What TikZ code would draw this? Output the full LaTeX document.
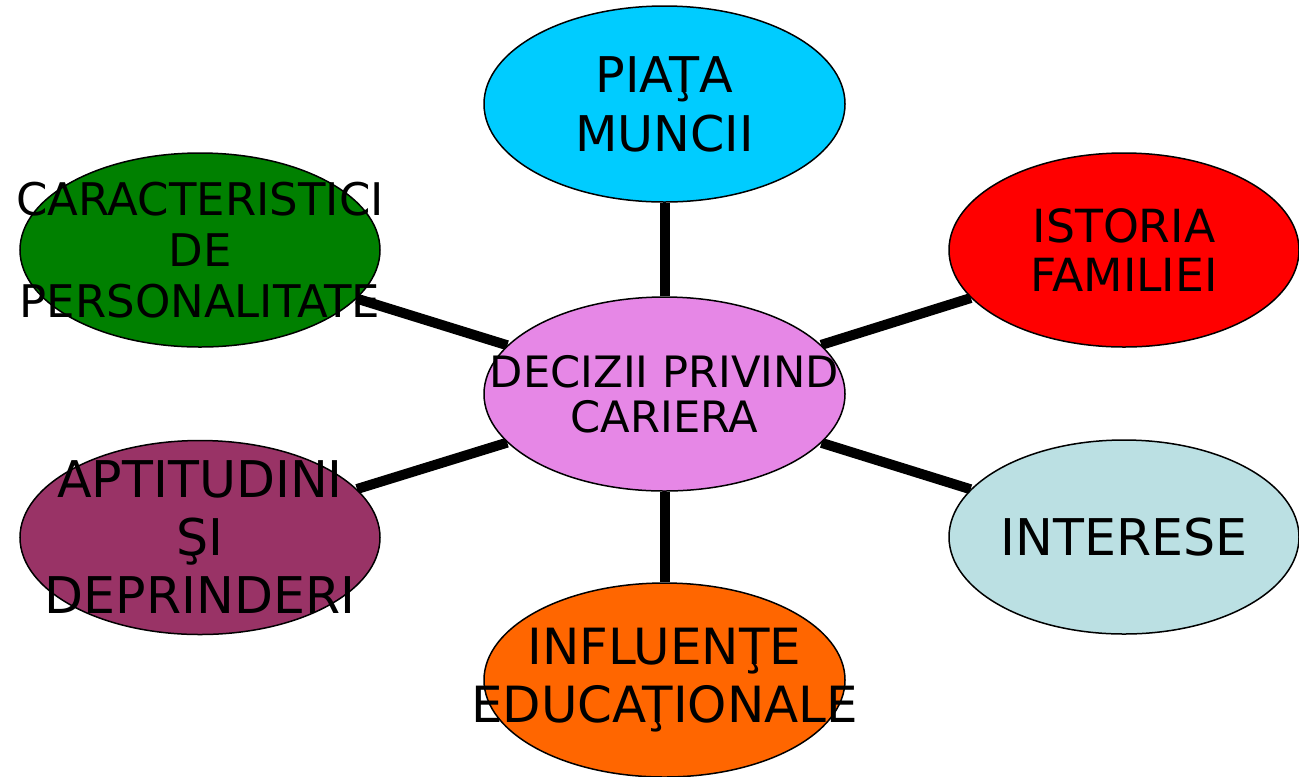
\documentclass[tikz,border=0pt]{standalone}
\usepackage{fontspec}
\setmainfont{DejaVu Sans}
\usetikzlibrary{shapes.geometric, backgrounds}

\begin{document}
\begin{tikzpicture}[
  bubble/.style={ellipse, draw=black, line width=0.015cm, inner sep=0pt},
  bubbletext/.style={align=center, inner sep=0pt, text=black},
  spoke/.style={line width=0.100000cm, draw=black}
]
\definecolor{my_violet}{RGB}{230,135,230}
\definecolor{my_cyan}{RGB}{0,204,255}
\definecolor{my_green}{RGB}{0,128,0}
\definecolor{my_red}{RGB}{255,0,0}
\definecolor{my_plum}{RGB}{153,51,102}
\definecolor{my_pale}{RGB}{187,224,227}
\definecolor{my_orange}{RGB}{255,102,0}
\useasboundingbox (0.000000, 0.000000) rectangle (12.990000, -7.760000);
% ellipses
\node[bubble, fill=my_violet, minimum width=3.610000cm, minimum height=1.940000cm] (centre) at (6.645000, -3.940000) {};
\node[bubble, fill=my_cyan, minimum width=3.610000cm, minimum height=1.960000cm] (piata) at (6.645000, -1.040000) {};
\node[bubble, fill=my_green, minimum width=3.600000cm, minimum height=1.940000cm] (caract) at (2.000000, -2.500000) {};
\node[bubble, fill=my_red, minimum width=3.500000cm, minimum height=1.940000cm] (istoria) at (11.240000, -2.500000) {};
\node[bubble, fill=my_plum, minimum width=3.600000cm, minimum height=1.940000cm] (aptit) at (2.000000, -5.375000) {};
\node[bubble, fill=my_pale, minimum width=3.500000cm, minimum height=1.940000cm] (interese) at (11.240000, -5.370000) {};
\node[bubble, fill=my_orange, minimum width=3.610000cm, minimum height=1.940000cm] (influente) at (6.645000, -6.800000) {};
% texts
\node[bubbletext, font=\fontsize{12.3pt}{12.8pt}\selectfont] (centre_text) at (centre) {DECIZII PRIVIND\\CARIERA};
\node[bubbletext, font=\fontsize{14pt}{16.8pt}\selectfont] (piata_text) at (piata) {PIAŢA\\MUNCII};
\node[bubbletext, font=\fontsize{12.8pt}{14.5pt}\selectfont] (caract_text) at (caract) {CARACTERISTICI\\DE\\PERSONALITATE};
\node[bubbletext, font=\fontsize{13pt}{13.7pt}\selectfont] (istoria_text) at (istoria) {ISTORIA\\FAMILIEI};
\node[bubbletext, font=\fontsize{14.4pt}{16.5pt}\selectfont] (aptit_text) at (aptit) {APTITUDINI\\ŞI\\DEPRINDERI};
\node[bubbletext, font=\fontsize{14.4pt}{16.5pt}\selectfont] (interese_text) at (interese) {INTERESE};
\node[bubbletext, font=\fontsize{14.2pt}{16.5pt}\selectfont] (influente_text) at (influente) {INFLUENŢE\\EDUCAŢIONALE};
% spokes
\begin{scope}[on background layer]
\draw[spoke] (centre) -- (piata);
\draw[spoke] (centre) -- (caract);
\draw[spoke] (centre) -- (istoria);
\draw[spoke] (centre) -- (aptit);
\draw[spoke] (centre) -- (interese);
\draw[spoke] (centre) -- (influente);
\end{scope}
\end{tikzpicture}
\end{document}
